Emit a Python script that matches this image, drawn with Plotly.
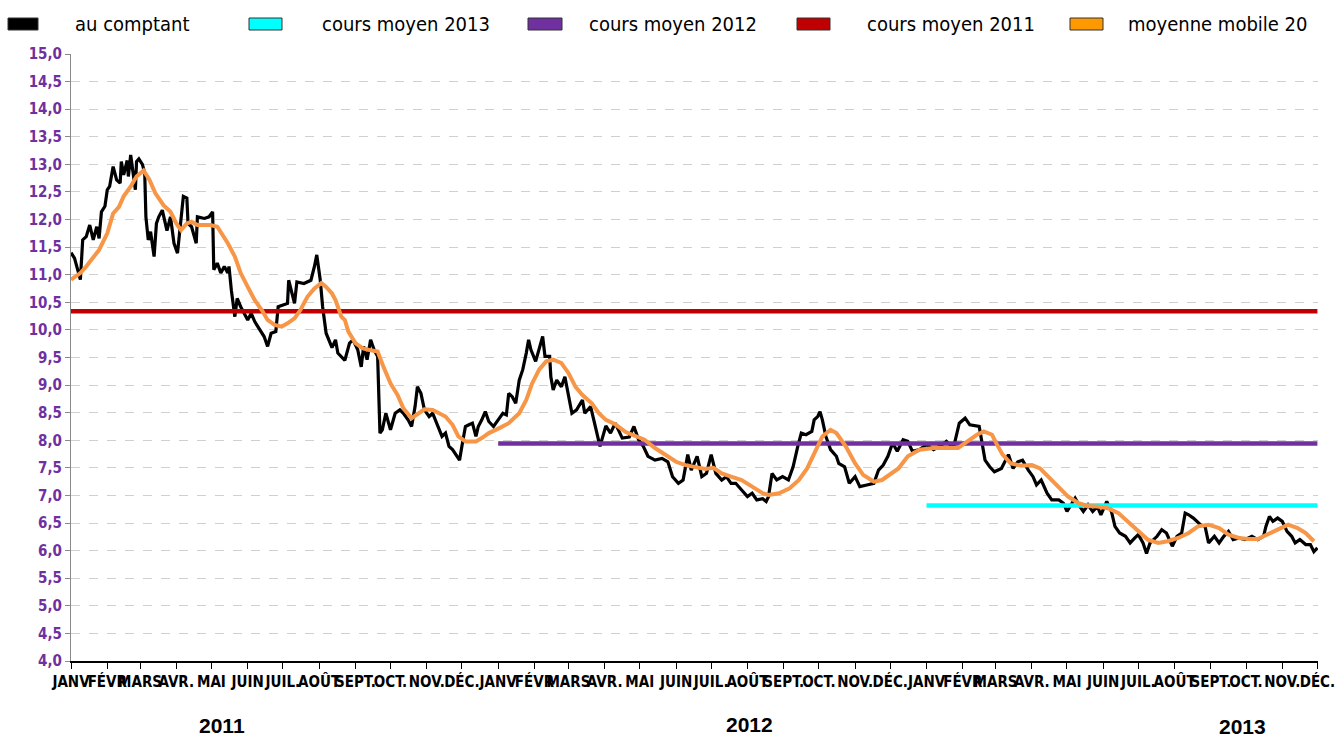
import plotly.graph_objects as go
import pandas as pd

# ---------------- data ----------------
spot_dates = [
    "2011-01-01","2011-01-04","2011-01-09","2011-01-11","2011-01-14","2011-01-17","2011-01-20","2011-01-23",
    "2011-01-25","2011-01-27","2011-01-30","2011-02-01","2011-02-03","2011-02-06","2011-02-09","2011-02-12",
    "2011-02-13","2011-02-15","2011-02-18","2011-02-19","2011-02-21","2011-02-23","2011-02-25","2011-02-26",
    "2011-02-28","2011-03-03","2011-03-05","2011-03-06","2011-03-08","2011-03-10","2011-03-13","2011-03-15",
    "2011-03-17","2011-03-20","2011-03-24","2011-03-27","2011-03-30","2011-04-02","2011-04-05","2011-04-07",
    "2011-04-10","2011-04-11","2011-04-14","2011-04-18","2011-04-19","2011-04-25","2011-04-29","2011-05-02",
    "2011-05-03","2011-05-06","2011-05-09","2011-05-12","2011-05-15","2011-05-16","2011-05-18","2011-05-21",
    "2011-05-23","2011-05-26","2011-06-01","2011-06-04","2011-06-07","2011-06-13","2011-06-15","2011-06-18",
    "2011-06-21","2011-06-25","2011-06-27","2011-07-05","2011-07-06","2011-07-11","2011-07-13","2011-07-19",
    "2011-07-25","2011-07-28","2011-07-30","2011-08-02","2011-08-04","2011-08-07","2011-08-12","2011-08-15",
    "2011-08-17","2011-08-23","2011-08-27","2011-08-30","2011-09-03","2011-09-06","2011-09-08","2011-09-11",
    "2011-09-14","2011-09-17","2011-09-20","2011-09-22","2011-09-24","2011-09-27","2011-10-01","2011-10-05",
    "2011-10-09","2011-10-12","2011-10-16","2011-10-19","2011-10-22","2011-10-24","2011-10-27","2011-10-30",
    "2011-11-03","2011-11-06","2011-11-09","2011-11-11","2011-11-14","2011-11-17","2011-11-20","2011-11-23",
    "2011-11-26","2011-11-29","2011-12-01","2011-12-04","2011-12-07","2011-12-10","2011-12-13","2011-12-15",
    "2011-12-18","2011-12-21","2011-12-24","2011-12-28",
    "2012-01-01","2012-01-05","2012-01-08","2012-01-10","2012-01-13","2012-01-16","2012-01-19","2012-01-22",
    "2012-01-25","2012-01-27","2012-01-29","2012-02-02","2012-02-04","2012-02-08","2012-02-10","2012-02-14",
    "2012-02-15","2012-02-17","2012-02-20","2012-02-24","2012-02-27","2012-03-01","2012-03-04","2012-03-08",
    "2012-03-13","2012-03-15","2012-03-20","2012-03-24","2012-03-28","2012-04-02","2012-04-06","2012-04-10",
    "2012-04-16","2012-04-22","2012-04-26","2012-04-30","2012-05-04","2012-05-08","2012-05-14","2012-05-20",
    "2012-05-25","2012-05-29","2012-06-03","2012-06-07","2012-06-11","2012-06-14","2012-06-19","2012-06-23",
    "2012-06-27","2012-07-01","2012-07-05","2012-07-10","2012-07-14","2012-07-18","2012-07-22","2012-07-27",
    "2012-08-01","2012-08-05","2012-08-09","2012-08-14","2012-08-17","2012-08-19","2012-08-22","2012-08-26",
    "2012-08-31","2012-09-05","2012-09-09","2012-09-13","2012-09-16","2012-09-20","2012-09-25","2012-09-27",
    "2012-09-30","2012-10-02","2012-10-04","2012-10-07","2012-10-11","2012-10-16","2012-10-18","2012-10-23",
    "2012-10-27","2012-11-01","2012-11-05","2012-11-11","2012-11-17","2012-11-21","2012-11-25","2012-11-29",
    "2012-12-03","2012-12-07","2012-12-12","2012-12-16","2012-12-20","2012-12-26",
    "2013-01-01","2013-01-07","2013-01-12","2013-01-18","2013-01-24","2013-01-29","2013-02-03","2013-02-07",
    "2013-02-15","2013-02-20","2013-02-24","2013-02-28","2013-03-06","2013-03-12","2013-03-16","2013-03-20",
    "2013-03-24","2013-03-29","2013-04-02","2013-04-05","2013-04-09","2013-04-14","2013-04-18","2013-04-24",
    "2013-04-28","2013-05-01","2013-05-05","2013-05-08","2013-05-12","2013-05-15","2013-05-19","2013-05-23",
    "2013-05-27","2013-05-30","2013-06-04","2013-06-08","2013-06-11","2013-06-15","2013-06-20","2013-06-24",
    "2013-06-28","2013-07-01","2013-07-05","2013-07-08","2013-07-11","2013-07-17","2013-07-21","2013-07-25",
    "2013-07-30","2013-08-03","2013-08-07","2013-08-10","2013-08-13","2013-08-17","2013-08-23","2013-08-27",
    "2013-08-30","2013-09-04","2013-09-08","2013-09-12","2013-09-16","2013-09-20","2013-09-25","2013-09-30",
    "2013-10-06","2013-10-11","2013-10-16","2013-10-18","2013-10-21","2013-10-24","2013-10-28","2013-11-01",
    "2013-11-05","2013-11-09","2013-11-12","2013-11-16","2013-11-21","2013-11-25","2013-11-28","2013-12-01",
]
spot_values = [
    11.40,11.30,10.91,11.63,11.69,11.90,11.63,11.87,
    11.66,12.14,12.24,12.54,12.60,12.96,12.72,12.66,
    13.05,12.81,13.07,12.78,13.17,12.90,12.54,13.05,
    13.10,13.00,12.84,12.05,11.63,11.78,11.33,11.93,
    12.05,12.17,11.80,12.05,11.57,11.39,11.99,12.42,
    12.39,11.93,11.87,11.57,12.05,12.02,12.05,12.14,
    11.09,11.21,11.03,11.15,11.03,11.15,10.72,10.24,
    10.57,10.42,10.18,10.30,10.15,9.94,9.88,9.70,
    9.94,9.97,10.42,10.48,10.90,10.48,10.87,10.84,
    10.90,11.15,11.36,10.90,10.42,9.94,9.68,9.82,
    9.58,9.45,9.76,9.82,9.64,9.33,9.70,9.46,
    9.82,9.64,9.52,8.13,8.19,8.49,8.19,8.49,
    8.55,8.49,8.37,8.25,8.61,8.97,8.85,8.55,
    8.43,8.49,8.34,8.25,8.07,8.13,7.89,7.83,
    7.74,7.64,7.89,8.25,8.28,8.31,8.07,8.25,
    8.37,8.52,8.34,8.25,
    8.37,8.49,8.46,8.85,8.79,8.67,9.09,9.28,
    9.58,9.82,9.64,9.43,9.58,9.88,9.52,9.52,
    9.15,8.91,9.09,8.97,9.15,8.85,8.49,8.55,
    8.73,8.49,8.61,8.25,7.89,8.26,8.13,8.31,
    8.04,8.06,8.25,8.01,7.89,7.71,7.64,7.67,
    7.61,7.34,7.22,7.28,7.74,7.46,7.71,7.34,
    7.40,7.74,7.40,7.28,7.34,7.22,7.22,7.10,
    6.98,7.04,6.92,6.94,6.89,6.98,7.40,7.28,
    7.34,7.28,7.52,7.89,8.13,8.10,8.16,8.37,
    8.43,8.52,8.37,8.07,7.83,7.71,7.58,7.52,
    7.22,7.34,7.16,7.19,7.22,7.46,7.55,7.71,
    7.95,7.80,8.01,7.98,7.80,7.83,
    7.92,7.83,7.89,7.98,7.86,8.31,8.40,8.28,
    8.25,7.64,7.52,7.43,7.49,7.74,7.49,7.61,
    7.64,7.46,7.34,7.19,7.28,7.04,6.92,6.92,
    6.86,6.71,6.86,6.95,6.80,6.71,6.83,6.71,
    6.80,6.65,6.89,6.71,6.44,6.32,6.26,6.14,
    6.23,6.29,6.14,5.95,6.14,6.26,6.38,6.32,
    6.08,6.26,6.32,6.68,6.65,6.59,6.47,6.44,
    6.14,6.26,6.14,6.26,6.35,6.20,6.23,6.20,
    6.26,6.20,6.26,6.44,6.62,6.53,6.59,6.53,
    6.35,6.26,6.14,6.20,6.11,6.11,5.98,6.05,
]

ma_dates = [
    "2011-01-01","2011-01-09","2011-01-14","2011-01-20","2011-01-25","2011-02-01","2011-02-06","2011-02-11",
    "2011-02-15","2011-02-21","2011-02-26","2011-03-04","2011-03-09","2011-03-14","2011-03-21","2011-03-27",
    "2011-04-01","2011-04-05","2011-04-10","2011-04-14","2011-04-19","2011-04-25","2011-04-30","2011-05-06",
    "2011-05-10","2011-05-15","2011-05-21","2011-05-26","2011-06-01","2011-06-07","2011-06-13","2011-06-18",
    "2011-06-24","2011-06-30","2011-07-05","2011-07-11","2011-07-16","2011-07-22","2011-07-28","2011-08-03",
    "2011-08-07","2011-08-12","2011-08-15","2011-08-17","2011-08-20","2011-08-23","2011-08-26","2011-09-01",
    "2011-09-07","2011-09-12","2011-09-20","2011-09-25","2011-10-01","2011-10-07","2011-10-12","2011-10-19",
    "2011-10-25","2011-10-30","2011-11-06","2011-11-11","2011-11-17","2011-11-23","2011-11-28","2011-12-04",
    "2011-12-13","2011-12-18","2011-12-24",
    "2012-01-02","2012-01-10","2012-01-19","2012-01-25","2012-01-30","2012-02-05","2012-02-11","2012-02-17",
    "2012-02-24","2012-03-01","2012-03-07","2012-03-13","2012-03-21","2012-03-27","2012-04-02","2012-04-10",
    "2012-04-19","2012-04-27","2012-05-05","2012-05-14","2012-05-22","2012-06-01","2012-06-09","2012-06-18",
    "2012-06-26","2012-07-03","2012-07-10","2012-07-18","2012-07-27","2012-08-05","2012-08-14","2012-08-19",
    "2012-08-28","2012-09-06","2012-09-14","2012-09-21","2012-09-28","2012-10-04","2012-10-11","2012-10-16",
    "2012-10-24","2012-11-01","2012-11-08","2012-11-17","2012-11-24","2012-11-30","2012-12-08","2012-12-16",
    "2012-12-26",
    "2013-01-07","2013-01-18","2013-01-28","2013-02-05","2013-02-13","2013-02-19","2013-02-26","2013-03-02",
    "2013-03-07","2013-03-14","2013-03-23","2013-04-01","2013-04-08","2013-04-15","2013-04-24","2013-05-02",
    "2013-05-11","2013-05-19","2013-05-27","2013-06-05","2013-06-14","2013-06-22","2013-07-01","2013-07-09",
    "2013-07-18","2013-07-26","2013-08-04","2013-08-13","2013-08-21","2013-08-30","2013-09-08","2013-09-16",
    "2013-09-25","2013-10-03","2013-10-11","2013-10-20","2013-10-28","2013-11-06","2013-11-14","2013-11-21",
    "2013-11-28",
]
ma_values = [
    10.91,11.03,11.15,11.30,11.45,11.75,12.11,12.23,
    12.42,12.60,12.78,12.89,12.72,12.48,12.26,12.14,
    11.93,11.81,11.93,11.96,11.90,11.90,11.90,11.87,
    11.75,11.57,11.33,11.03,10.78,10.54,10.36,10.18,
    10.09,10.06,10.12,10.21,10.36,10.60,10.75,10.85,
    10.78,10.66,10.54,10.42,10.24,10.18,9.97,9.76,
    9.67,9.64,9.61,9.33,9.03,8.82,8.58,8.40,
    8.49,8.56,8.55,8.50,8.43,8.28,8.07,7.98,
    7.98,8.04,8.13,
    8.22,8.31,8.49,8.73,9.03,9.28,9.43,9.46,
    9.40,9.22,8.97,8.82,8.67,8.49,8.37,8.29,
    8.15,8.07,8.01,7.86,7.74,7.61,7.55,7.52,
    7.48,7.50,7.40,7.34,7.28,7.16,7.04,7.01,
    7.04,7.13,7.28,7.49,7.79,8.07,8.19,8.13,
    7.89,7.58,7.37,7.25,7.28,7.37,7.49,7.71,
    7.83,
    7.86,7.86,7.86,7.98,8.10,8.16,8.10,7.93,
    7.74,7.58,7.54,7.55,7.49,7.34,7.16,6.98,
    6.86,6.81,6.80,6.77,6.68,6.53,6.35,6.20,
    6.14,6.17,6.23,6.32,6.44,6.47,6.41,6.29,
    6.23,6.21,6.21,6.29,6.38,6.47,6.41,6.32,
    6.17,
]

avg_names = ["cours moyen 2013", "cours moyen 2012", "cours moyen 2011"]
avg_values = [6.82, 7.94, 10.34]
avg_starts = ["2013-01-01", "2012-01-01", "2011-01-01"]
avg_end = "2013-12-01"

month_labels = ["JANV", "FÉVR", "MARS", "AVR.", "MAI", "JUIN",
                "JUIL.", "AOÛT", "SEPT.", "OCT.", "NOV.", "DÉC."]
years = ["2011", "2012", "2013"]

# ---------------- styling ----------------
NARROW = "Liberation Sans Narrow, DejaVu Sans Condensed, Arial Narrow, sans-serif"
avg_colors = ["#00FFFF", "#7030A0", "#C00000"]
spot_color = "#000000"
ma_color = "#F79646"

W, H = 1335, 738
L, R, T, B = 71, 17, 54, 77
PW, PH = W - L - R, H - T - B

def px_x(px):
    return (px - L) / PW

def px_y(py):
    return (H - B - py) / PH

fig = go.Figure()

fig.add_trace(go.Scatter(x=spot_dates, y=spot_values, mode="lines", name="au comptant",
                         line=dict(color=spot_color, width=3.2), showlegend=False))
for name, val, start, col in zip(avg_names, avg_values, avg_starts, avg_colors):
    fig.add_trace(go.Scatter(x=[start, avg_end], y=[val, val], mode="lines", name=name,
                             line=dict(color=col, width=4.5), showlegend=False))
fig.add_trace(go.Scatter(x=ma_dates, y=ma_values, mode="lines", name="moyenne mobile 20",
                         line=dict(color=ma_color, width=4), showlegend=False))

# tick positions: month starts
tick_vals = pd.date_range("2011-01-01", "2013-12-01", freq="MS")
tick_text = [month_labels[d.month - 1] for d in tick_vals]

fig.update_xaxes(
    type="date", range=["2011-01-01", "2013-12-01 12:00"],
    tickmode="array", tickvals=tick_vals, ticktext=tick_text, tickangle=0,
    ticklabeloverflow="allow",
    showgrid=False, zeroline=False,
    showline=True, linecolor="#000000", linewidth=1.5,
    ticks="outside", ticklen=6, tickcolor="#000000", tickwidth=1,
    tickfont=dict(family=NARROW, size=15, color="#000000", weight="bold"),
)
fig.update_yaxes(
    range=[4, 15], dtick=0.5, tick0=4, tickformat=".1f",
    showgrid=True, gridcolor="#d0d0d0", griddash="dash", gridwidth=1,
    zeroline=False, showline=True, linecolor="#898989", linewidth=1,
    ticks="outside", ticklen=5, tickcolor="#898989",
    tickfont=dict(family=NARROW, size=15, color="#7030A0", weight="bold"),
)

# year labels under the axis
year_pos = ["2011-05-10", "2012-08-03", "2013-09-28"]
year_py = [725, 724, 726]
for yr, xp, yp in zip(years, year_pos, year_py):
    fig.add_annotation(x=xp, xref="x", y=px_y(yp), yref="paper", text=yr, showarrow=False,
                       font=dict(family="Liberation Sans, Arial, sans-serif", size=21,
                                 color="#000000", weight="bold"),
                       xanchor="center", yanchor="middle")

# manual legend (rectangular swatches with dark outline)
legend_items = [
    ("au comptant", spot_color, 8, 38, 73),
    ("cours moyen 2013", avg_colors[0], 249, 282, 320),
    ("cours moyen 2012", avg_colors[1], 528, 562, 587),
    ("cours moyen 2011", avg_colors[2], 797, 830, 865),
    ("moyenne mobile 20", "#FF9900", 1070, 1103, 1126),
]
for label, col, x0, x1, tx in legend_items:
    fig.add_shape(type="rect", xref="paper", yref="paper",
                  x0=px_x(x0), x1=px_x(x1), y0=px_y(30), y1=px_y(18),
                  fillcolor=col, line=dict(color="#333333", width=1))
    fig.add_annotation(x=px_x(tx), y=px_y(24), xref="paper", yref="paper", text=label,
                       showarrow=False, xanchor="left", yanchor="middle",
                       font=dict(family=NARROW, size=20, color="#000000"))

fig.update_layout(
    width=W, height=H,
    margin=dict(l=L, r=R, t=T, b=B, autoexpand=False),
    paper_bgcolor="#ffffff", plot_bgcolor="#ffffff",
    separators=", ",
    showlegend=False,
)

fig.write_html("out.html", config={"displayModeBar": False},
               post_script="document.body.style.margin='0';")
